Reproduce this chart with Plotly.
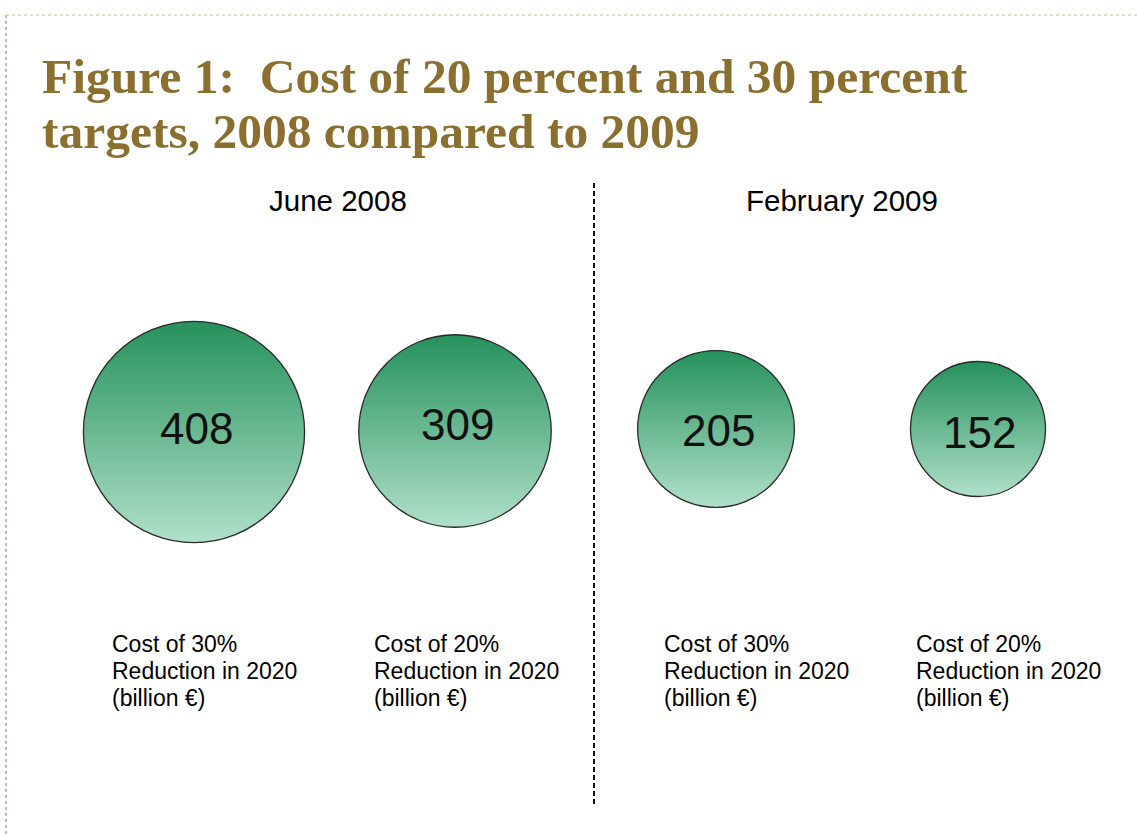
import plotly.graph_objects as go
import numpy as np

# ---- data ----
periods = ["June 2008", "February 2009"]
targets = ["30%", "20%", "30%", "20%"]
values = [408, 309, 205, 152]
value_labels = ["408", "309", "205", "152"]
caption_line1 = ["Cost of {t}".format(t=t) for t in targets]
caption_line2 = ["Reduction in 2020"] * 4
caption_line3 = ["(billion €)"] * 4
title_line1 = "Figure 1:  Cost of 20 percent and 30 percent"
title_line2 = "targets, 2008 compared to 2009"

# ---- layout constants (page pixel space) ----
W, H = 1137, 837
circle_x = [194, 455, 716, 978]
circle_y = [432, 431, 429, 429]
label_x = [196, 457, 718, 979]
label_y = [428, 424, 430, 432]
caption_x = [110, 372, 662, 914]
caption_rows = [644, 671, 698]
period_x = [338, 842]
period_y = 200
size_k = 10.95

sizes = [size_k * np.sqrt(v) for v in values]

fig = go.Figure()
fig.add_trace(go.Scatter(
    x=circle_x, y=circle_y, mode="markers",
    marker=dict(
        size=sizes, sizemode="diameter",
        color="#25915b",
        opacity=1,
        gradient=dict(type="vertical", color="#b0e0ca"),
        line=dict(color="#2a2a2a", width=1.3),
    ),
    hoverinfo="skip", showlegend=False,
))

annotations = []
for lx, ly, t in zip(label_x, label_y, value_labels):
    annotations.append(dict(x=lx, y=ly, text=t, showarrow=False,
                            xanchor="center", yanchor="middle",
                            font=dict(family="Liberation Sans, Arial", size=44, color="#111111")))
for px, p in zip(period_x, periods):
    annotations.append(dict(x=px, y=period_y, text=p, showarrow=False,
                            xanchor="center", yanchor="middle",
                            font=dict(family="Liberation Sans, Arial", size=29.5, color="#000000")))
for row_y, lines in zip(caption_rows, [caption_line1, caption_line2, caption_line3]):
    for cx, t in zip(caption_x, lines):
        annotations.append(dict(x=cx, y=row_y, text=t, showarrow=False,
                                xanchor="left", yanchor="middle", align="left",
                                font=dict(family="Liberation Sans, Arial", size=23, color="#000000")))
for ty, t in zip([76, 131], [title_line1, title_line2]):
    annotations.append(dict(x=40, y=ty, text=t, showarrow=False,
                            xanchor="left", yanchor="middle", align="left",
                            font=dict(family="Liberation Serif, serif", size=49.5,
                                      weight="bold", color="#8b6f2e")))

shapes = [
    dict(type="line", x0=594, x1=594, y0=183, y1=807,
         line=dict(color="#111111", width=2, dash="5px,3px")),
    dict(type="line", x0=6, x1=W, y0=15, y1=15,
         line=dict(color="#cbbd9c", width=1, dash="dot")),
    dict(type="line", x0=6, x1=6, y0=15, y1=H,
         line=dict(color="#cbbd9c", width=2, dash="dot")),
]

fig.update_layout(
    width=W, height=H,
    margin=dict(l=0, r=0, t=0, b=0),
    paper_bgcolor="white", plot_bgcolor="white",
    xaxis=dict(range=[0, W], visible=False, fixedrange=True),
    yaxis=dict(range=[H, 0], visible=False, fixedrange=True),
    annotations=annotations, shapes=shapes,
)
fig.write_html("out.html", config={"displayModeBar": False},
               post_script="document.body.style.margin='0';document.body.style.overflow='hidden';")
